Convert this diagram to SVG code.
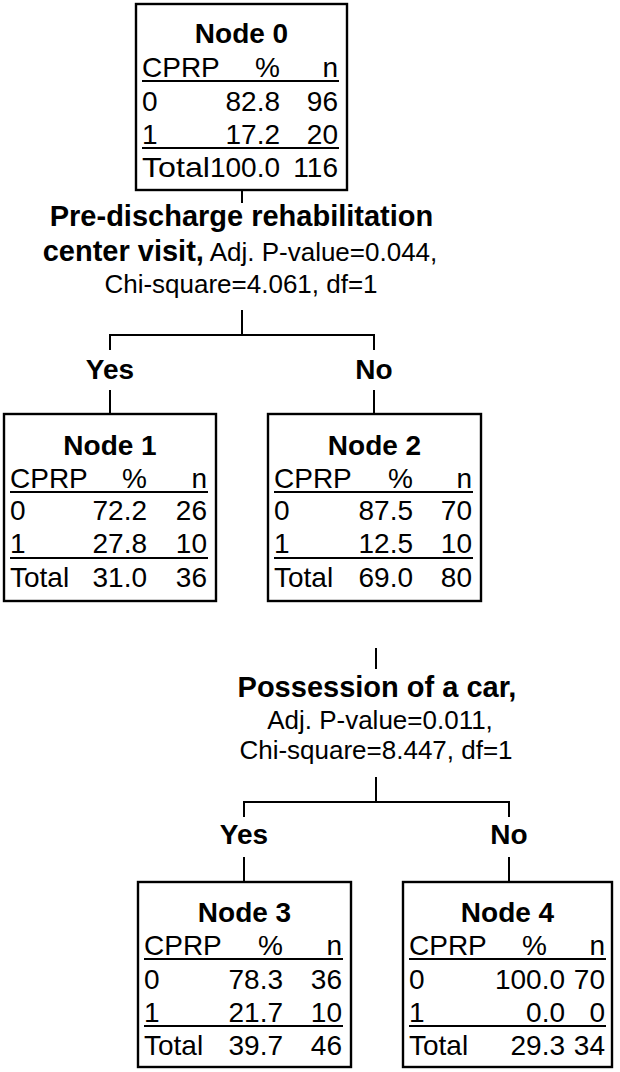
<svg xmlns="http://www.w3.org/2000/svg" width="620" height="1072" viewBox="0 0 620 1072">
<style>
text{font-family:"Liberation Sans",Arial,sans-serif;fill:#000}
.t{font-size:28px}
.h{font-size:28px;font-weight:bold;text-anchor:middle}
.e{text-anchor:end}
.c{font-size:26px;text-anchor:middle}
.b{font-weight:bold;font-size:29px}
.box{fill:#fff;stroke:#000;stroke-width:2.4}
.rl{stroke:#000;stroke-width:2}
.cn{stroke:#000;stroke-width:2;fill:none}
</style>
<rect width="620" height="1072" fill="#fff"/>
<g id="connectors">
<path class="cn" d="M242,190V203M242,310V335M110,350V335H374V350M110,390V414M374,390V414M376,648V669M376,777V802M244,817V802H509V817M244,857V882M509,857V882"/>
<text class="c"><tspan x="241.5" y="226" class="b">Pre-discharge rehabilitation</tspan></text>
<text class="c" x="240" y="261"><tspan class="b">center visit,</tspan> Adj. P-value=0.044,</text>
<text class="c" x="241" y="293">Chi-square=4.061, df=1</text>
<text class="h" x="110" y="379">Yes</text>
<text class="h" x="374" y="379">No</text>
<text class="c" x="377" y="697"><tspan class="b">Possession of a car,</tspan></text>
<text class="c" x="380" y="729">Adj. P-value=0.011,</text>
<text class="c" x="376" y="759">Chi-square=8.447, df=1</text>
<text class="h" x="244" y="844">Yes</text>
<text class="h" x="509" y="844">No</text>
</g>
<g id="node0">
<rect class="box" x="136" y="4" width="211" height="186"/>
<text class="h" x="241.5" y="43">Node 0</text>
<g class="t">
<text x="142" y="77">CPRP</text><text class="e" x="280" y="77">%</text><text class="e" x="338" y="77">n</text>
<text x="142" y="111">0</text><text class="e" x="280" y="111">82.8</text><text class="e" x="338" y="111">96</text>
<text x="142" y="144">1</text><text class="e" x="280" y="144">17.2</text><text class="e" x="338" y="144">20</text>
<text x="142" y="177" textLength="68" lengthAdjust="spacingAndGlyphs">Total</text><text class="e" x="280" y="177">100.0</text><text class="e" x="338" y="177">116</text>
</g>
<path class="rl" d="M142,81H339M142,148H339"/>
</g>
<g id="node1">
<rect class="box" x="4" y="414" width="212" height="187"/>
<text class="h" x="110" y="455">Node 1</text>
<g class="t">
<text x="10" y="488">CPRP</text><text class="e" x="147" y="488">%</text><text class="e" x="207" y="488">n</text>
<text x="10" y="520">0</text><text class="e" x="147" y="520">72.2</text><text class="e" x="207" y="520">26</text>
<text x="10" y="553">1</text><text class="e" x="147" y="553">27.8</text><text class="e" x="207" y="553">10</text>
<text x="10" y="587">Total</text><text class="e" x="147" y="587">31.0</text><text class="e" x="207" y="587">36</text>
</g>
<path class="rl" d="M10,492H208M10,558H208"/>
</g>
<g id="node2">
<rect class="box" x="268" y="414" width="213" height="187"/>
<text class="h" x="374.5" y="455">Node 2</text>
<g class="t">
<text x="274" y="488">CPRP</text><text class="e" x="413" y="488">%</text><text class="e" x="472" y="488">n</text>
<text x="274" y="520">0</text><text class="e" x="413" y="520">87.5</text><text class="e" x="472" y="520">70</text>
<text x="274" y="553">1</text><text class="e" x="413" y="553">12.5</text><text class="e" x="472" y="553">10</text>
<text x="274" y="587">Total</text><text class="e" x="413" y="587">69.0</text><text class="e" x="472" y="587">80</text>
</g>
<path class="rl" d="M274,492H473M274,558H473"/>
</g>
<g id="node3">
<rect class="box" x="138" y="882" width="213" height="185"/>
<text class="h" x="244.5" y="922">Node 3</text>
<g class="t">
<text x="144" y="955">CPRP</text><text class="e" x="283" y="955">%</text><text class="e" x="342" y="955">n</text>
<text x="144" y="989">0</text><text class="e" x="283" y="989">78.3</text><text class="e" x="342" y="989">36</text>
<text x="144" y="1022">1</text><text class="e" x="283" y="1022">21.7</text><text class="e" x="342" y="1022">10</text>
<text x="144" y="1055">Total</text><text class="e" x="283" y="1055">39.7</text><text class="e" x="342" y="1055">46</text>
</g>
<path class="rl" d="M144,959H343M144,1026H343"/>
</g>
<g id="node4">
<rect class="box" x="403" y="882" width="209" height="185"/>
<text class="h" x="507.5" y="922">Node 4</text>
<g class="t">
<text x="409" y="955">CPRP</text><text class="e" x="547" y="955">%</text><text class="e" x="605" y="955">n</text>
<text x="409" y="989">0</text><text class="e" x="565" y="989">100.0</text><text class="e" x="605" y="989">70</text>
<text x="409" y="1022">1</text><text class="e" x="565" y="1022">0.0</text><text class="e" x="605" y="1022">0</text>
<text x="409" y="1055">Total</text><text class="e" x="565" y="1055">29.3</text><text class="e" x="605" y="1055">34</text>
</g>
<path class="rl" d="M409,959H606M409,1026H606"/>
</g>
</svg>
